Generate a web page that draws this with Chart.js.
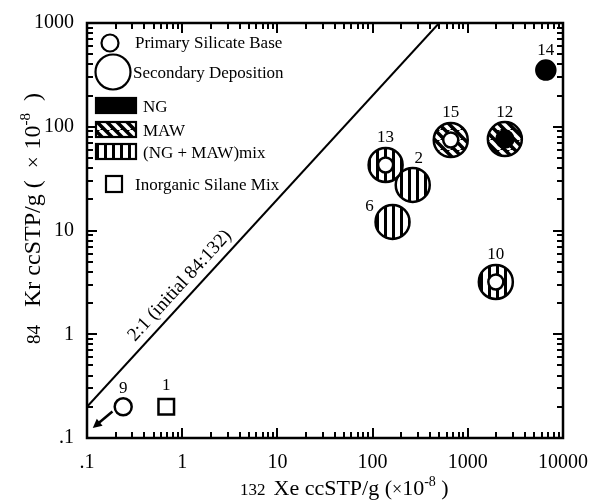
<!DOCTYPE html>
<html>
<head>
<meta charset="utf-8">
<script src="https://cdn.jsdelivr.net/npm/chart.js@4"></script>
<style>
  body { margin: 0; background: #fff; }
</style>
</head>
<body>
<canvas id="c" width="592" height="501"></canvas>
<script>
// secondary deposition (big rings)
var secIds  = ['12', '15', '2', '13', '6', '10'];
var secXe   = [2450, 662, 264, 137, 162, 1970];
var secKr   = [76, 74.5, 27.5, 42.8, 12.1, 3.19];
var secFill = ['MAW', 'MAW', 'mix', 'mix', 'mix', 'mix'];

// primary silicate base (small circles)
var priIds  = ['14', '12', '15', '13', '10', '9'];
var priXe   = [6600, 2450, 662, 137, 1970, 0.24];
var priKr   = [352, 76, 74.5, 42.8, 3.19, 0.2];
var priFill = ['NG', 'NG', 'none', 'none', 'none', 'none'];

// inorganic silane mix
var silIds = ['1'];
var silXe  = [0.68];
var silKr  = [0.2];

// 2:1 reference line
var lineXe = [0.1, 500];
var lineKr = [0.2, 1000];

// arrow from sample 9
var arrowXe = [0.185, 0.115];
var arrowKr = [0.18, 0.125];

var xTicks = [0.1, 1, 10, 100, 1000, 10000];
var yTicks = [0.1, 1, 10, 100, 1000];

var FONT = "'Liberation Serif', 'Times New Roman', serif";

var canvas = document.getElementById('c');
var ctx0 = canvas.getContext('2d');

function makeStripes() {
    var c = document.createElement('canvas');
    c.width = 8; c.height = 8;
    var g = c.getContext('2d');
    g.fillStyle = '#fff'; g.fillRect(0, 0, 8, 8);
    g.fillStyle = '#000'; g.fillRect(0, 0, 3, 8);
    return ctx0.createPattern(c, 'repeat');
}
function makeDiag() {
    var c = document.createElement('canvas');
    c.width = 10; c.height = 10;
    var g = c.getContext('2d');
    g.fillStyle = '#000'; g.fillRect(0, 0, 10, 10);
    g.strokeStyle = '#fff'; g.lineWidth = 3.5;
    [-10, 0, 10].forEach(function (k) {
        g.beginPath(); g.moveTo(k, 0); g.lineTo(k + 10, 10); g.stroke();
    });
    return ctx0.createPattern(c, 'repeat');
}
var fills = { NG: '#000', MAW: makeDiag(), mix: makeStripes(), none: '#fff' };

function pts(xs, ys) { return xs.map(function (x, i) { return { x: x, y: ys[i] }; }); }

function tickLabel(v) {
    var l = Math.log10(v);
    if (Math.abs(l - Math.round(l)) > 1e-6) return '';
    return v < 1 ? '.1' : String(Math.round(v));
}

// 1..9 x each decade
function minorVals(majors) {
    var out = [];
    for (var i = 0; i < majors.length - 1; i++) {
        for (var k = 1; k < 10; k++) out.push({ v: k * majors[i], major: k === 1 });
    }
    out.push({ v: majors[majors.length - 1], major: true });
    return out;
}

function drawRich(ctx, segs, x, y) {
    segs.forEach(function (s) {
        if (s.gap) { x += s.gap; return; }
        ctx.font = s.size + 'px ' + FONT;
        ctx.fillText(s.t, x, y - (s.rise || 0));
        x += ctx.measureText(s.t).width;
    });
}

// inward ticks on all four sides, drawn last
var axisTicks = {
    id: 'axisTicks',
    afterDraw: function (chart) {
        var ctx = chart.ctx, a = chart.chartArea;
        var xs = chart.scales.x, ys = chart.scales.y;
        var xt = minorVals(xTicks), yt = minorVals(yTicks);
        ctx.save();
        ctx.fillStyle = '#000';
        ctx.beginPath();
        for (var i = 0; i < xt.length; i++) {
            var px = Math.round(xs.getPixelForValue(xt[i].v));
            var len = xt[i].major ? 10 : 6;
            ctx.rect(px - 1, a.bottom - len, 2, len);
            ctx.rect(px - 1, a.top, 2, len);
        }
        for (var j = 0; j < yt.length; j++) {
            var py = Math.round(ys.getPixelForValue(yt[j].v));
            var ln = yt[j].major ? 10 : 6;
            ctx.rect(a.left, py - 1, ln, 2);
            ctx.rect(a.right - ln, py - 1, ln, 2);
        }
        ctx.fill();
        ctx.restore();
    }
};

var decor = {
    id: 'decor',
    afterDraw: function (chart) {
        var ctx = chart.ctx, a = chart.chartArea;
        var xs = chart.scales.x, ys = chart.scales.y;
        ctx.save();
        ctx.strokeStyle = '#000';
        ctx.fillStyle = '#000';
        ctx.lineWidth = 2.5;
        ctx.strokeRect(a.left, a.top, a.right - a.left, a.bottom - a.top);

        // sample numbers
        ctx.font = '17px ' + FONT;
        ctx.textAlign = 'center';
        ctx.textBaseline = 'middle';
        var offs = { '2': [6, -26], '6': [-23, -15] };
        function labelSet(dsIndex, ids) {
            var meta = chart.getDatasetMeta(dsIndex);
            ids.forEach(function (id, n) {
                if (dsIndex === 2 && secIds.indexOf(id) >= 0) return;
                var el = meta.data[n];
                var r = el.options.radius;
                var o = offs[id] || [0, -(r + 10)];
                ctx.fillText(id, el.x + o[0], el.y + o[1]);
            });
        }
        labelSet(1, secIds);
        labelSet(2, priIds);
        labelSet(3, silIds);

        // 2:1 line label
        var x0 = xs.getPixelForValue(lineXe[0]), y0 = ys.getPixelForValue(lineKr[0]);
        var x1 = xs.getPixelForValue(lineXe[1]), y1 = ys.getPixelForValue(lineKr[1]);
        var ang = Math.atan2(y1 - y0, x1 - x0);
        var lx = xs.getPixelForValue(1.2), ly = ys.getPixelForValue(2.4);
        ctx.save();
        ctx.translate(lx, ly);
        ctx.rotate(ang);
        ctx.textBaseline = 'bottom';
        ctx.font = '19px ' + FONT;
        ctx.fillText('2:1 (initial 84:132)', 0, -4);
        ctx.restore();

        // arrow from sample 9
        var ax0 = xs.getPixelForValue(arrowXe[0]), ay0 = ys.getPixelForValue(arrowKr[0]);
        var ax1 = xs.getPixelForValue(arrowXe[1]), ay1 = ys.getPixelForValue(arrowKr[1]);
        var aa = Math.atan2(ay1 - ay0, ax1 - ax0);
        ctx.lineWidth = 2.5;
        ctx.beginPath();
        ctx.moveTo(ax0, ay0);
        ctx.lineTo(ax1 - 5 * Math.cos(aa), ay1 - 5 * Math.sin(aa));
        ctx.stroke();
        ctx.beginPath();
        ctx.moveTo(ax1, ay1);
        ctx.lineTo(ax1 - 9 * Math.cos(aa) + 4.5 * Math.sin(aa), ay1 - 9 * Math.sin(aa) - 4.5 * Math.cos(aa));
        ctx.lineTo(ax1 - 9 * Math.cos(aa) - 4.5 * Math.sin(aa), ay1 - 9 * Math.sin(aa) + 4.5 * Math.cos(aa));
        ctx.closePath();
        ctx.fill();

        // legend
        ctx.textAlign = 'left';
        ctx.textBaseline = 'alphabetic';
        ctx.font = '17px ' + FONT;
        ctx.lineWidth = 2.2;
        ctx.fillStyle = '#fff';
        ctx.beginPath(); ctx.arc(110, 43, 8.5, 0, Math.PI * 2); ctx.fill(); ctx.stroke();
        ctx.beginPath(); ctx.arc(113, 72, 17.5, 0, Math.PI * 2); ctx.fill(); ctx.stroke();
        ctx.fillStyle = '#000';
        ctx.fillText('Primary Silicate Base', 135, 48);
        ctx.fillText('Secondary Deposition', 133, 78);

        var rects = [['NG', 98, 'NG'], ['MAW', 122, 'MAW'], ['mix', 144, '(NG + MAW)mix']];
        rects.forEach(function (r) {
            ctx.fillStyle = fills[r[0]];
            ctx.fillRect(96, r[1], 40, 15);
            ctx.strokeRect(96, r[1], 40, 15);
            ctx.fillStyle = '#000';
            ctx.fillText(r[2], 143, r[1] + 14);
        });
        ctx.fillStyle = '#fff';
        ctx.fillRect(106, 176, 16, 16);
        ctx.strokeRect(106, 176, 16, 16);
        ctx.fillStyle = '#000';
        ctx.fillText('Inorganic Silane Mix', 135, 190);

        // axis titles
        drawRich(ctx, [
            { t: '132', size: 17 }, { gap: 8 },
            { t: 'Xe ccSTP/g (', size: 22 }, { t: '\u00d7', size: 18 },
            { t: '10', size: 22 }, { t: '-8', size: 14, rise: 9 }, { t: ' )', size: 22 }
        ], 240, 495);
        ctx.save();
        ctx.translate(40, 344);
        ctx.rotate(-Math.PI / 2);
        drawRich(ctx, [
            { t: '84', size: 19 }, { gap: 18 },
            { t: 'Kr ccSTP/g (', size: 24 }, { gap: 12 }, { t: '\u00d7', size: 21 }, { gap: 7 },
            { t: '10', size: 24 }, { t: '-8', size: 15, rise: 10 }, { gap: 12 }, { t: ')', size: 24 }
        ], 0, 0);
        ctx.restore();

        ctx.restore();
    }
};

var chart = new Chart(ctx0, {
    type: 'scatter',
    data: {
        datasets: [
            {
                label: '2:1 (initial 84:132)',
                type: 'line',
                data: pts(lineXe, lineKr),
                borderColor: '#000',
                borderWidth: 2,
                pointRadius: 0,
                fill: false,
                order: 3
            },
            {
                label: 'Secondary Deposition',
                data: pts(secXe, secKr),
                pointRadius: 17,
                pointBorderWidth: 2.5,
                borderColor: '#000',
                backgroundColor: secFill.map(function (f) { return fills[f]; }),
                order: 2
            },
            {
                label: 'Primary Silicate Base',
                data: pts(priXe, priKr),
                pointRadius: function (c) {
                    var id = priIds[c.dataIndex];
                    if (secIds.indexOf(id) >= 0) return priFill[c.dataIndex] === 'NG' ? 8.5 : 7.5;
                    return priFill[c.dataIndex] === 'NG' ? 9.5 : 8.5;
                },
                pointBorderWidth: 2.5,
                borderColor: '#000',
                backgroundColor: priFill.map(function (f) { return fills[f]; }),
                order: 1
            },
            {
                label: 'Inorganic Silane Mix',
                data: pts(silXe, silKr),
                pointStyle: 'rect',
                pointRadius: 11,
                pointBorderWidth: 2.5,
                borderColor: '#000',
                backgroundColor: '#fff',
                order: 0
            }
        ]
    },
    options: {
        responsive: false,
        animation: false,
        layout: { padding: { top: 23, right: 29, left: 0, bottom: 0 } },
        plugins: { legend: { display: false }, tooltip: { enabled: false } },
        scales: {
            x: {
                type: 'logarithmic',
                min: 0.1,
                max: 10000,
                grid: { display: false },
                border: { display: false },
                ticks: {
                    autoSkip: false, maxRotation: 0, padding: 5, color: '#000',
                    font: { family: FONT, size: 20 },
                    callback: tickLabel
                },
                afterFit: function (s) { s.height = 63; s.paddingLeft = 0; s.paddingRight = 0; }
            },
            y: {
                type: 'logarithmic',
                min: 0.1,
                max: 1000,
                grid: { display: false },
                border: { display: false },
                ticks: {
                    autoSkip: false, padding: 5, color: '#000',
                    font: { family: FONT, size: 20 },
                    callback: tickLabel
                },
                afterFit: function (s) { s.width = 87; s.paddingTop = 0; s.paddingBottom = 0; }
            }
        }
    },
    plugins: [decor, axisTicks]
});
</script>
</body>
</html>
